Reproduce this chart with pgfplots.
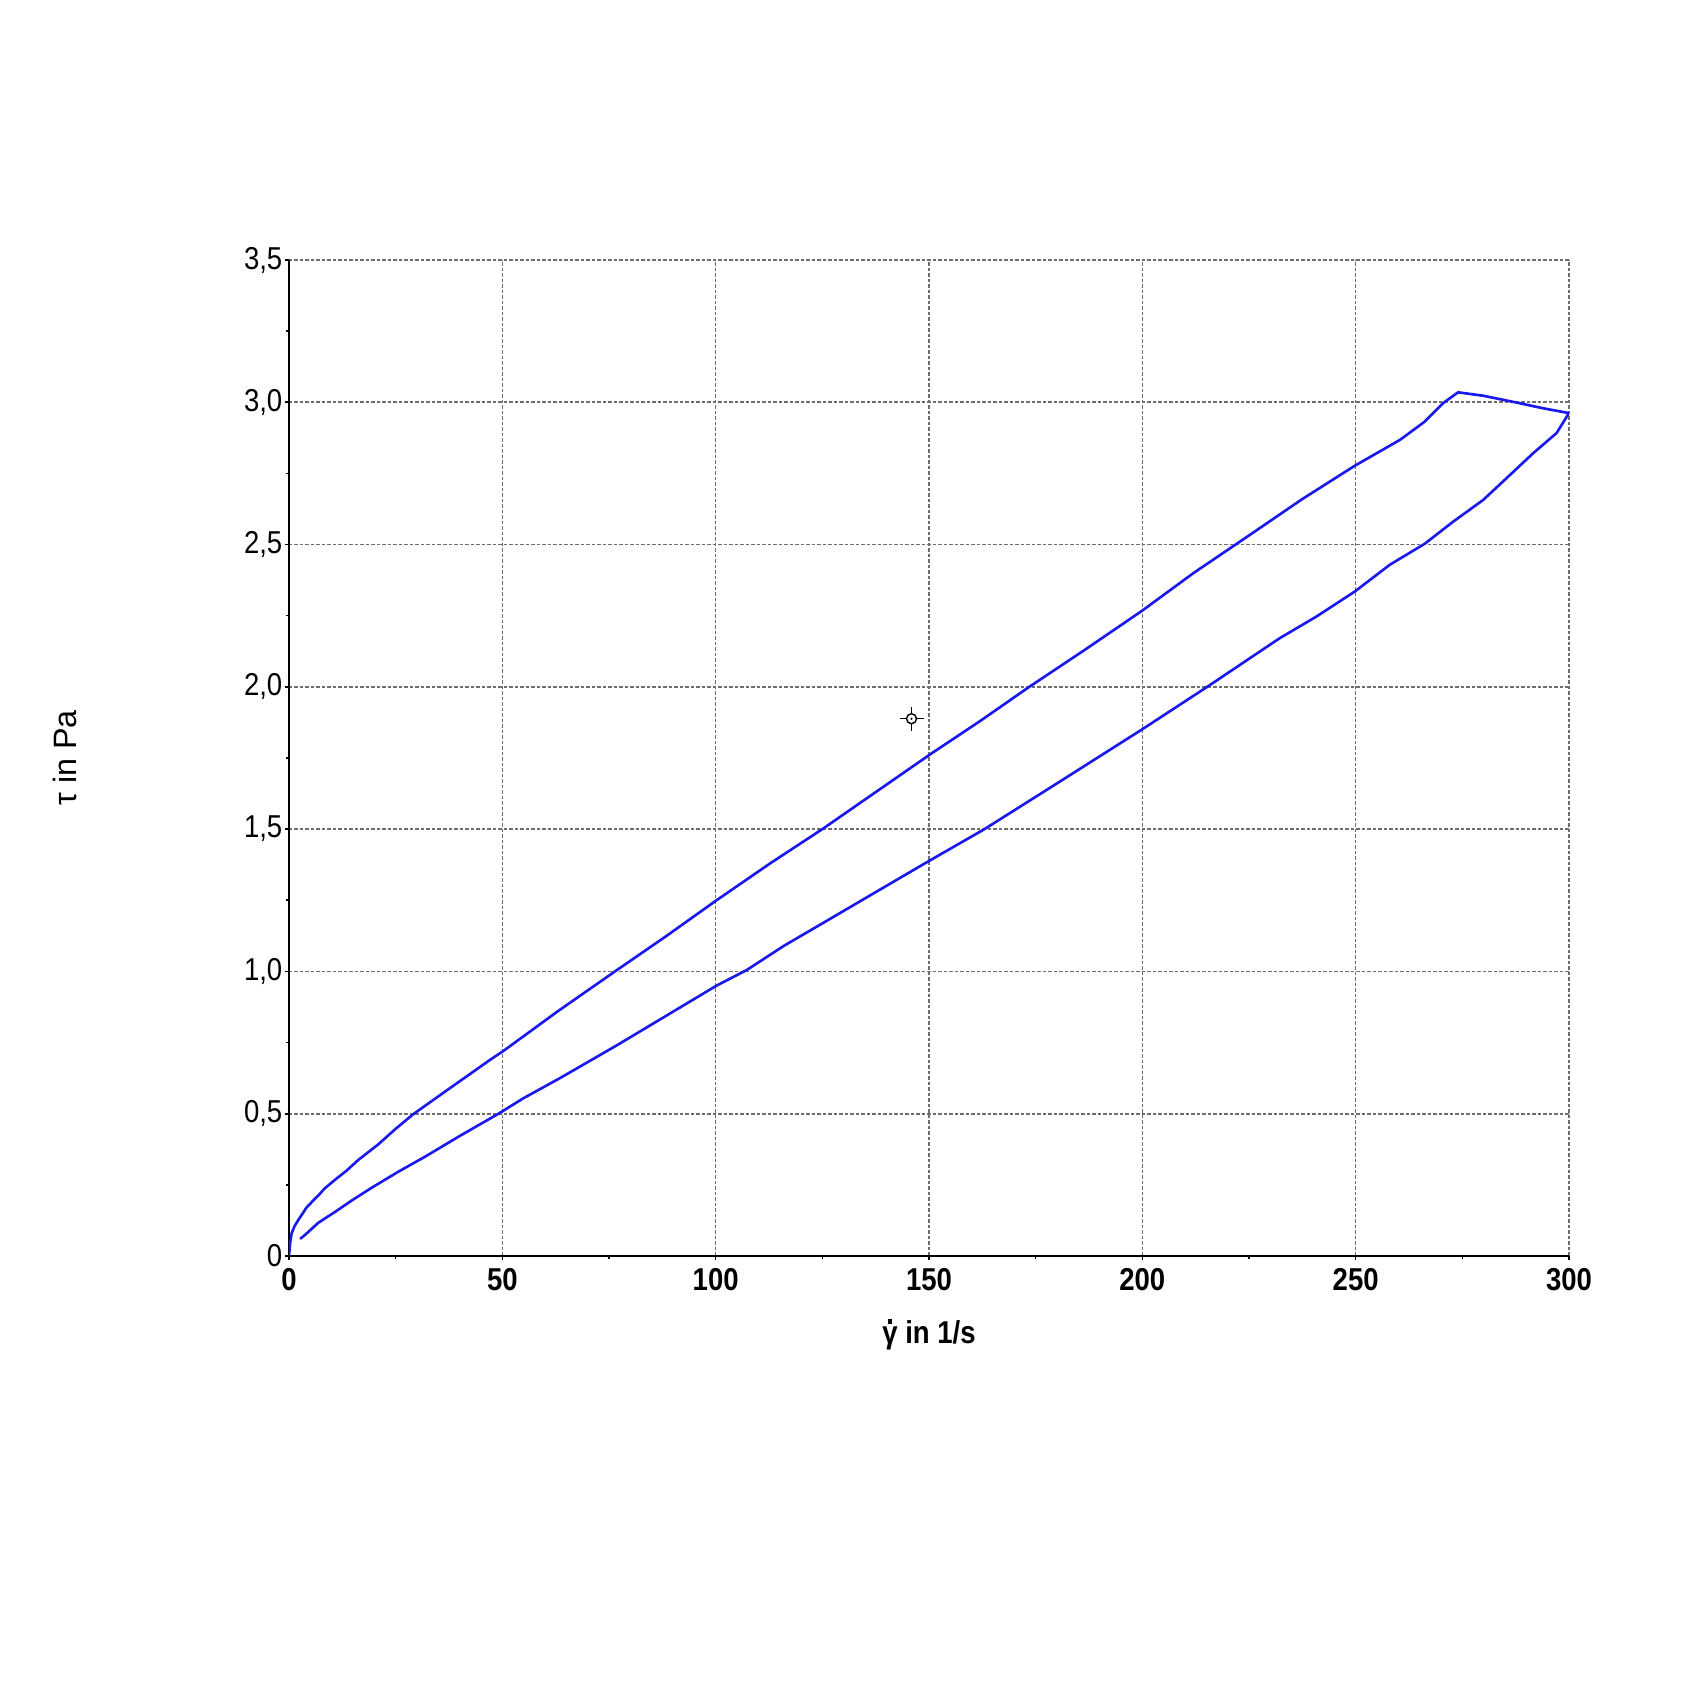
\documentclass[border=0pt]{standalone}
\usepackage{fontspec}
\setmainfont{Liberation Sans}[FakeStretch=0.87]
\newfontfamily\ylabfont{Liberation Sans}
\usepackage{pgfplots}
\pgfplotsset{compat=1.18}

\definecolor{curve}{RGB}{25,25,235}
\definecolor{gridgray}{RGB}{110,110,110}

% gamma with a dot above (dot drawn as a small rule)
\newcommand{\gdot}{\ooalign{γ\cr\hidewidth\raisebox{0.62em}{\rule{0.13em}{0.13em}}\hidewidth\cr}}

\pgfdeclareplotmark{cursor}{%
  \pgfpathcircle{\pgfpointorigin}{0.5mm}\pgfusepathqstroke
  \pgfpathmoveto{\pgfqpoint{0.5mm}{0pt}}\pgfpathlineto{\pgfqpoint{1.2mm}{0pt}}
  \pgfpathmoveto{\pgfqpoint{-0.5mm}{0pt}}\pgfpathlineto{\pgfqpoint{-1.2mm}{0pt}}
  \pgfpathmoveto{\pgfqpoint{0pt}{0.5mm}}\pgfpathlineto{\pgfqpoint{0pt}{1.2mm}}
  \pgfpathmoveto{\pgfqpoint{0pt}{-0.5mm}}\pgfpathlineto{\pgfqpoint{0pt}{-1.2mm}}
  \pgfusepathqstroke
  \pgfpathcircle{\pgfpointorigin}{0.12mm}\pgfusepathqfill
}

% ramp up (incl. short segment to 300 1/s)
\pgfplotstableread{
x y
0 0
0.3 0.05
0.62 0.08
1.3 0.105
2.2 0.127
4.1 0.170
5.5 0.192
6.9 0.213
8.4 0.238
10.8 0.268
13.5 0.30
16.2 0.337
20.9 0.392
25 0.447
29.1 0.498
36.6 0.578
42 0.635
47.1 0.689
50.2 0.72
63 0.86
76.4 1.0
88.5 1.125
100.2 1.25
113 1.382
125 1.500
137.5 1.63
150.1 1.761
162 1.88
173.3 1.998
187 2.135
200 2.268
212 2.40
225.2 2.534
237.5 2.66
249.8 2.777
260.4 2.868
266 2.93
270.5 2.997
274 3.035
279.9 3.023
287.7 2.999
293.9 2.979
300 2.962
}\rampup

% ramp down
\pgfplotstableread{
x y
300 2.962
297.1 2.892
291.6 2.821
286.2 2.745
279.9 2.657
272.9 2.581
266.2 2.503
258 2.429
249.8 2.335
240.8 2.247
232.2 2.171
215.1 1.999
200 1.851
181.5 1.675
163 1.500
150.1 1.389
138 1.283
126.4 1.181
116 1.09
107.3 1.005
100.2 0.950
88.5 0.845
76.8 0.74
63.5 0.625
54.9 0.554
49.1 0.50
39.7 0.419
31.9 0.349
25.6 0.296
19.4 0.240
14.7 0.195
10.8 0.155
6.9 0.117
3.75 0.074
2.6 0.06
}\rampdown

\begin{document}
\begin{tikzpicture}
\useasboundingbox (-2.89cm,-4.45cm) rectangle (14.12cm,12.56cm);
\begin{axis}[
  at={(0,0)}, anchor=south west,
  scale only axis,
  width=12.8cm, height=9.96cm,
  xmin=0, xmax=300, ymin=0, ymax=3.5,
  enlargelimits=false,
  axis x line=bottom, axis y line=left,
  axis line style={-, black, line width=0.5pt},
  xtick={0,50,...,300},
  ytick={0,0.5,1,1.5,2,2.5,3,3.5},
  yticklabels={0,{0,5},{1,0},{1,5},{2,0},{2,5},{3,0},{3,5}},
  minor x tick num=1, minor y tick num=1,
  tick align=outside,
  major tick length=0.4mm, minor tick length=0.3mm,
  tick style={black, line width=0.45pt},
  grid=major,
  major grid style={gridgray, line width=0.45pt, dash pattern=on 0.35mm off 0.2mm},
  tick label style={font=\fontsize{9}{10}\selectfont, black},
  xticklabel style={font=\fontsize{9}{10}\selectfont\bfseries, anchor=north, inner sep=0pt, yshift=-0.8mm,
    /pgf/number format/assume math mode=true},
  yticklabel style={anchor=east, inner sep=0pt, xshift=-0.2mm},
  xlabel={\bfseries\gdot{} in 1/s},
  xlabel style={font=\fontsize{9}{10}\selectfont, at={(axis description cs:0.5,-0.0763)}, anchor=center},
  ylabel={\ylabfont τ in Pa},
  ylabel style={font=\fontsize{9.2}{10}\selectfont, at={(axis description cs:-0.175,0.5)}, anchor=center},
]
\addplot[curve, line width=0.75pt] table[x=x, y=y] {\rampup};
\addplot[curve, line width=0.75pt] table[x=x, y=y] {\rampdown};
\addplot[only marks, mark=cursor, black, line width=0.4pt] coordinates {(145.9,1.888)};
\end{axis}
\end{tikzpicture}
\end{document}
